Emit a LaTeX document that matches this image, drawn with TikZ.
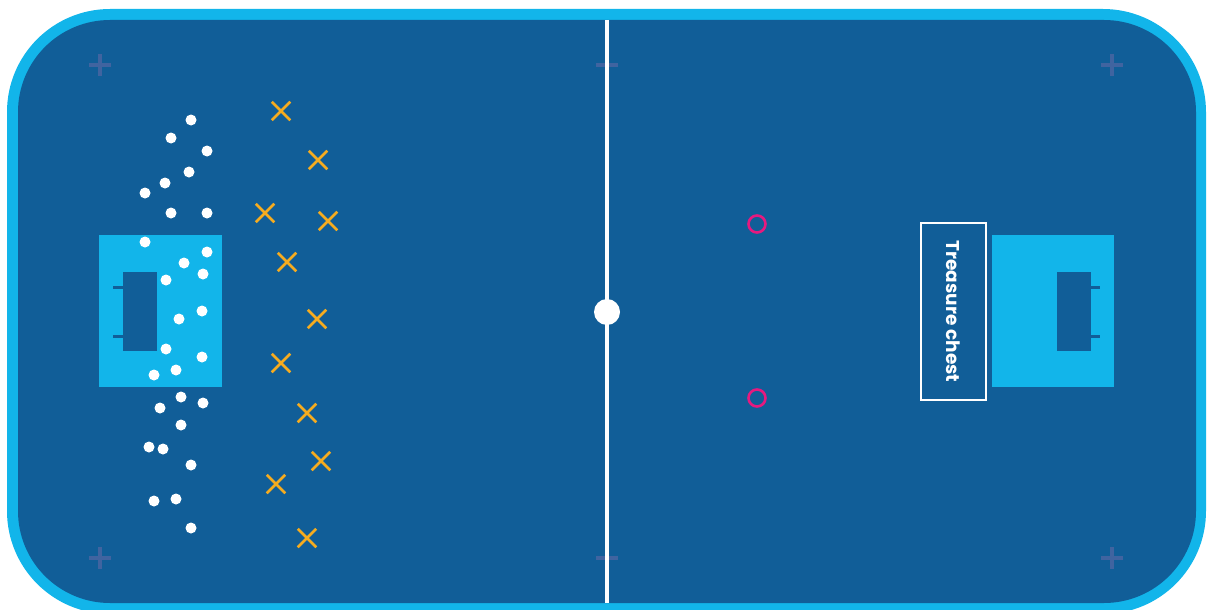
\documentclass[tikz,border=0pt]{standalone}
\usepackage{fontspec}
\setsansfont{Poppins}
\usetikzlibrary{shapes.misc}
\definecolor{rinkblue}{RGB}{17,94,152}
\definecolor{rinkedge}{RGB}{18,181,234}
\definecolor{markgrey}{RGB}{64,100,160}
\definecolor{crossgold}{RGB}{246,172,31}
\definecolor{conepink}{RGB}{230,25,127}

\begin{document}
\begin{tikzpicture}[
  x=1pt, y=-1pt,
  spot/.style={circle, fill=white, inner sep=0pt, minimum size=11pt},
  defender/.style={cross out, draw=crossgold, line width=2.5pt, inner sep=0pt, minimum size=16pt},
  cone/.style={circle, draw=conepink, line width=2.6pt, inner sep=0pt, minimum size=17pt},
  faceoff/.style={draw=markgrey, line width=3.6pt},
  crease/.style={fill=rinkedge},
  cage/.style={fill=rinkblue},
  stub/.style={draw=rinkblue, line width=3pt},
  chest/.style={draw=white, line width=2.2pt, rotate=-90, inner sep=0pt, minimum width=177pt, minimum height=65pt,
    text=white, font=\sffamily\bfseries\fontsize{18.5}{22}\selectfont}
]
\useasboundingbox (0,0) rectangle (1208,610);
\fill[rinkedge, rounded corners=103pt] (7,9) rectangle (1206,614);
\fill[rinkblue, rounded corners=92pt] (18,20) rectangle (1196,603);

\foreach \mx in {100,607,1112}
  \foreach \my in {65,558}
    \draw[faceoff] (\mx-11,\my) -- (\mx+11,\my) (\mx,\my-11) -- (\mx,\my+11);

\draw[white, line width=4pt] (607,20) -- (607,603);
\node[circle, fill=white, inner sep=0pt, minimum size=26pt] (centre) at (607,312) {};

\fill[crease] (99,235) rectangle (222,387);
\fill[cage] (123,272) rectangle (157,351);
\draw[stub] (113,287) -- (123,287) (113,336) -- (123,336);

\fill[crease] (992,235) rectangle (1114,387);
\fill[cage] (1057,272) rectangle (1091,351);
\draw[stub] (1091,287) -- (1100,287) (1091,336) -- (1100,336);

\node[chest] (treasure) at (953.5,311.5) {Treasure chest};

\node[cone] (cone1) at (757,224) {};
\node[cone] (cone2) at (757,398) {};

\foreach \px/\py [count=\i] in {191/120, 171/138, 207/151, 189/172, 165/183, 145/193, 171/213, 207/213,
    145/242, 207/252, 184/263, 166/280, 203/274, 179/319, 202/311, 166/349, 202/357, 176/370, 154/375,
    181/397, 160/408, 203/403, 181/425, 149/447, 163/449, 191/465, 154/501, 176/499, 191/528}
  \node[spot] (player\i) at (\px,\py) {};

\foreach \px/\py [count=\i] in {281/111, 318/160, 265/213, 328/221, 287/262, 317/319, 281/363,
    307/413, 321/461, 276/484, 307/538}
  \node[defender] (def\i) at (\px,\py) {};
\end{tikzpicture}
\end{document}
